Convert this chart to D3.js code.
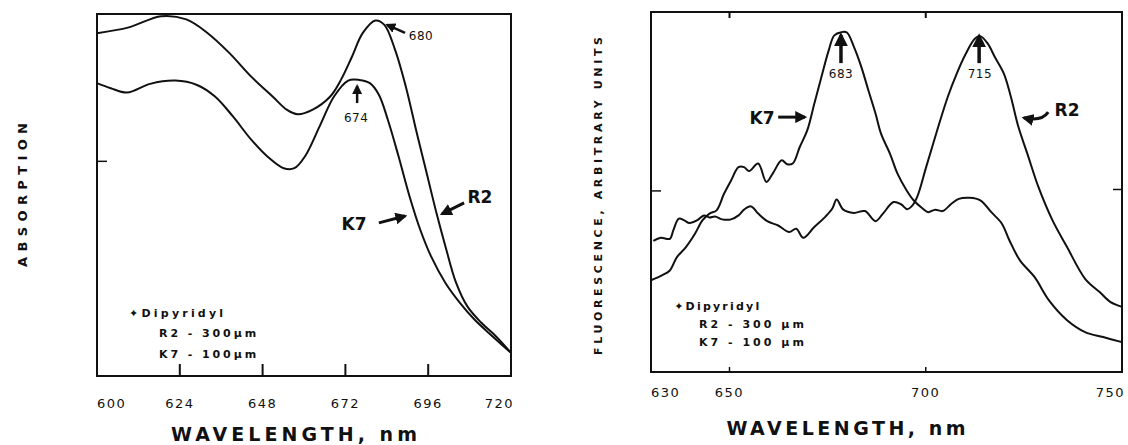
<!DOCTYPE html>
<html>
<head>
  <meta charset="utf-8">
  <title>Absorption and fluorescence spectra</title>
  <script src="https://d3js.org/d3.v7.min.js"></script>
  <style>
    body { margin: 0; background: #fff; }
    svg text { font-family: "DejaVu Sans", sans-serif; fill: #111; }
    .tick-label { font-size: 13px; letter-spacing: 1.5px; }
    .axis-title { font-size: 19px; font-weight: bold; }
    .legend { font-size: 11px; font-weight: bold; letter-spacing: 1px; }
    .tag { font-size: 17px; font-weight: bold; }
    .peak { font-size: 12px; letter-spacing: 0.5px; }
  </style>
</head>
<body>
<svg id="chart" width="1128" height="445"></svg>
<script>
// ---- left panel: absorption ----
var absTicks = [600, 624, 648, 672, 696, 720];
var absWlR2 = [600, 609.2, 618.6, 625.9, 632.1, 638.4, 644.7, 650.9, 655.1, 658.2, 662.4, 667.6, 670.7, 673.9, 677, 680.7, 683.3, 686.4, 689.5, 692.7, 695.8, 698.4, 701, 704.1, 707.3, 711.4, 715.6, 720];
var absR2 = [0.947, 0.963, 0.994, 0.985, 0.947, 0.892, 0.827, 0.772, 0.735, 0.723, 0.735, 0.772, 0.818, 0.882, 0.947, 0.982, 0.970, 0.901, 0.800, 0.671, 0.551, 0.450, 0.358, 0.257, 0.193, 0.147, 0.110, 0.064];
var absWlK7 = [600, 604, 608.7, 615.4, 622.7, 629, 634.2, 639.4, 644.7, 649.9, 654.1, 657.2, 660.3, 664.5, 668.7, 672.8, 676, 679.1, 681.7, 684.3, 687.4, 690.6, 693.7, 696.8, 701, 705.2, 709.4, 714.6, 720];
var absK7 = [0.809, 0.795, 0.783, 0.807, 0.816, 0.804, 0.772, 0.717, 0.653, 0.602, 0.574, 0.574, 0.607, 0.689, 0.772, 0.816, 0.818, 0.809, 0.777, 0.708, 0.607, 0.496, 0.404, 0.331, 0.257, 0.202, 0.156, 0.110, 0.064];

// ---- right panel: fluorescence ----
var fluTicks = [630, 650, 700, 750];
var fluWlK7 = [630, 632.9, 634.8, 636.6, 638.9, 641.2, 643.1, 644.9, 646.7, 648.6, 650.4, 652.3, 653.7, 655, 657.3, 659.4, 661, 663.3, 664.7, 666.1, 667.9, 669.8, 671.6, 673.4, 675.3, 676.7, 678.5, 679.9, 681.7, 683.6, 685.4, 687.2, 688.6, 690.9, 692.8, 695.1, 696.9, 699.2, 700.6, 702.4, 704.3, 706.6, 708.4, 711.2, 713.9, 716.7, 719.4, 721.3, 724, 727.7, 731.4, 736, 740.6, 745.2, 750];
var fluK7 = [0.255, 0.269, 0.282, 0.319, 0.347, 0.384, 0.421, 0.440, 0.449, 0.495, 0.532, 0.569, 0.569, 0.558, 0.579, 0.528, 0.551, 0.588, 0.577, 0.579, 0.625, 0.671, 0.745, 0.819, 0.894, 0.935, 0.944, 0.943, 0.903, 0.847, 0.782, 0.718, 0.662, 0.606, 0.551, 0.505, 0.477, 0.454, 0.444, 0.451, 0.447, 0.468, 0.481, 0.484, 0.477, 0.444, 0.412, 0.366, 0.310, 0.264, 0.199, 0.144, 0.111, 0.097, 0.083];
var fluWlR2 = [630.6, 632.5, 634.8, 635.7, 637.1, 638.5, 639.8, 641.7, 643.5, 644.9, 646.3, 648.1, 650.4, 652.3, 653.7, 655.5, 657.3, 659.6, 662.4, 665.2, 667, 668.8, 671.6, 674.4, 676.2, 677.3, 679, 681.7, 684.5, 687.2, 689.1, 691.8, 693.7, 695.3, 696.4, 697.8, 700.1, 702.9, 705.6, 707.9, 710.2, 712.5, 713.9, 715.8, 717.6, 719.9, 721.7, 723.6, 725.9, 728.7, 732.3, 736, 740.6, 744.3, 747.1, 750];
var fluR2 = [0.364, 0.373, 0.370, 0.394, 0.426, 0.421, 0.414, 0.421, 0.435, 0.429, 0.432, 0.424, 0.424, 0.435, 0.451, 0.460, 0.440, 0.419, 0.407, 0.389, 0.398, 0.373, 0.403, 0.431, 0.454, 0.479, 0.451, 0.442, 0.447, 0.419, 0.440, 0.472, 0.466, 0.452, 0.460, 0.486, 0.569, 0.671, 0.764, 0.829, 0.884, 0.926, 0.933, 0.912, 0.875, 0.829, 0.764, 0.681, 0.606, 0.514, 0.421, 0.347, 0.259, 0.222, 0.194, 0.181];

var legendLines = ["\u2726Dipyridyl", "R2 - 300\u03bcm", "K7 - 100\u03bcm"];
var legendLinesR = ["\u2726Dipyridyl", "R2 - 300 \u03bcm", "K7 - 100 \u03bcm"];

var svg = d3.select("#chart");
svg.append("defs").append("marker")
   .attr("id", "head")
   .attr("viewBox", "0 0 10 10")
   .attr("refX", 8).attr("refY", 5)
   .attr("markerWidth", 4).attr("markerHeight", 4)
   .attr("orient", "auto")
   .append("path")
   .attr("d", "M0,0 L10,5 L0,10 z")
   .attr("fill", "#111");

function series(wl, vals) {
  return wl.map(function(w, i) { return [w, vals[i]]; });
}

// ================= left panel =================
var xA = d3.scaleLinear().domain([600, 720]).range([97, 511]);
var yA = d3.scaleLinear().domain([0, 1]).range([376, 14]);
var gA = svg.append("g");

var lineA = d3.line()
  .x(function(d) { return xA(d[0]); })
  .y(function(d) { return yA(d[1]); })
  .curve(d3.curveCatmullRom.alpha(0.5));

gA.selectAll("path.curve")
  .data([series(absWlR2, absR2), series(absWlK7, absK7)])
  .enter().append("path")
  .attr("class", "curve")
  .attr("d", lineA)
  .attr("fill", "none")
  .attr("stroke", "#111")
  .attr("stroke-width", 2);

gA.append("rect")
  .attr("x", xA(600)).attr("y", yA(1))
  .attr("width", xA(720) - xA(600)).attr("height", yA(0) - yA(1))
  .attr("fill", "none").attr("stroke", "#111").attr("stroke-width", 2);

// inner ticks
gA.selectAll("line.xt")
  .data(absTicks.slice(1, -1))
  .enter().append("line")
  .attr("x1", function(d) { return xA(d); }).attr("x2", function(d) { return xA(d); })
  .attr("y1", yA(0)).attr("y2", yA(0) - 12)
  .attr("stroke", "#111").attr("stroke-width", 2);
gA.append("line")
  .attr("x1", xA(600)).attr("x2", xA(600) + 10)
  .attr("y1", yA(0.593)).attr("y2", yA(0.593))
  .attr("stroke", "#111").attr("stroke-width", 1.5);

gA.selectAll("text.tick-label")
  .data(absTicks)
  .enter().append("text")
  .attr("class", "tick-label")
  .attr("x", function(d, i) { return xA(d) + (i == absTicks.length - 1 ? 3 : 0); })
  .attr("y", 408)
  .attr("text-anchor", function(d, i) { return i == 0 ? "start" : i == absTicks.length - 1 ? "end" : "middle"; })
  .text(function(d) { return d; });

gA.append("text")
  .attr("class", "axis-title")
  .attr("x", 294).attr("y", 441)
  .attr("text-anchor", "middle")
  .attr("textLength", 246).attr("lengthAdjust", "spacing")
  .text("WAVELENGTH, nm");

gA.append("text")
  .attr("class", "axis-title")
  .style("font-size", "13px")
  .attr("transform", "translate(27,195) rotate(-90)")
  .attr("text-anchor", "middle")
  .attr("textLength", 144).attr("lengthAdjust", "spacing")
  .text("ABSORPTION");

// annotations (data units)
function arrow(g, xs, ys, x1, y1, x2, y2, w) {
  g.append("line")
    .attr("x1", xs(x1)).attr("y1", ys(y1))
    .attr("x2", xs(x2)).attr("y2", ys(y2))
    .attr("stroke", "#111").attr("stroke-width", w)
    .attr("marker-end", "url(#head)");
}
arrow(gA, xA, yA, 689.3, 0.948, 684.1, 0.970, 2.5);
gA.append("text").attr("class", "peak").attr("x", xA(693.9)).attr("y", yA(0.939))
  .attr("text-anchor", "middle").attr("dy", "0.35em").text("680");
arrow(gA, xA, yA, 675.4, 0.754, 675.4, 0.801, 2.5);
gA.append("text").attr("class", "peak").attr("x", xA(675.1)).attr("y", yA(0.713))
  .attr("text-anchor", "middle").attr("dy", "0.35em").text("674");
arrow(gA, xA, yA, 706.4, 0.478, 700.0, 0.448, 3);
gA.append("text").attr("class", "tag").attr("x", xA(711.0)).attr("y", yA(0.494))
  .attr("text-anchor", "middle").attr("dy", "0.35em").text("R2");
arrow(gA, xA, yA, 681.7, 0.423, 689.3, 0.442, 3);
gA.append("text").attr("class", "tag").attr("x", xA(674.5)).attr("y", yA(0.420))
  .attr("text-anchor", "middle").attr("dy", "0.35em").text("K7");

var legA = [[609.3, 0.174], [618.0, 0.119], [618.0, 0.061]];
gA.selectAll("text.legend")
  .data(legendLines)
  .enter().append("text")
  .attr("class", "legend")
  .attr("x", function(d, i) { return xA(legA[i][0]); })
  .attr("y", function(d, i) { return yA(legA[i][1]); })
  .attr("dy", "0.35em")
  .attr("textLength", function(d, i) { return i == 0 ? 95 : 98; })
  .attr("lengthAdjust", "spacing")
  .text(function(d) { return d; });

// ================= right panel =================
var xF = d3.scaleLinear().domain([630, 750]).range([651, 1122]);
var yF = d3.scaleLinear().domain([0, 1]).range([372, 12]);
var gF = svg.append("g");

var lineF = d3.line()
  .x(function(d) { return xF(d[0]); })
  .y(function(d) { return yF(d[1]); })
  .curve(d3.curveCatmullRom.alpha(0.5));

gF.selectAll("path.curve")
  .data([series(fluWlK7, fluK7), series(fluWlR2, fluR2)])
  .enter().append("path")
  .attr("class", "curve")
  .attr("d", lineF)
  .attr("fill", "none")
  .attr("stroke", "#111")
  .attr("stroke-width", 2);

gF.append("rect")
  .attr("x", xF(630)).attr("y", yF(1))
  .attr("width", xF(750) - xF(630)).attr("height", yF(0) - yF(1))
  .attr("fill", "none").attr("stroke", "#111").attr("stroke-width", 2);

gF.selectAll("line.top")
  .data([650, 700])
  .enter().append("line")
  .attr("x1", function(d) { return xF(d); }).attr("x2", function(d) { return xF(d); })
  .attr("y1", yF(1)).attr("y2", yF(1) + 6)
  .attr("stroke", "#111").attr("stroke-width", 2);
gF.selectAll("line.bot")
  .data([650, 700])
  .enter().append("line")
  .attr("x1", function(d) { return xF(d); }).attr("x2", function(d) { return xF(d); })
  .attr("y1", yF(0)).attr("y2", yF(0) - 5)
  .attr("stroke", "#111").attr("stroke-width", 1.5);
gF.append("line")
  .attr("x1", xF(630)).attr("x2", xF(630) + 10)
  .attr("y1", yF(0.503)).attr("y2", yF(0.503))
  .attr("stroke", "#111").attr("stroke-width", 1.5);
gF.append("line")
  .attr("x1", xF(750)).attr("x2", xF(750) - 9)
  .attr("y1", yF(0.507)).attr("y2", yF(0.507))
  .attr("stroke", "#111").attr("stroke-width", 1.5);

gF.selectAll("text.tick-label")
  .data(fluTicks)
  .enter().append("text")
  .attr("class", "tick-label")
  .attr("x", function(d, i) { return xF(d) + (i == fluTicks.length - 1 ? 3 : 0); })
  .attr("y", 397)
  .attr("text-anchor", function(d, i) { return i == 0 ? "start" : i == fluTicks.length - 1 ? "end" : "middle"; })
  .text(function(d) { return d; });

gF.append("text")
  .attr("class", "axis-title")
  .attr("x", 846).attr("y", 435)
  .attr("text-anchor", "middle")
  .attr("textLength", 239).attr("lengthAdjust", "spacing")
  .text("WAVELENGTH, nm");

gF.append("text")
  .attr("class", "axis-title")
  .style("font-size", "11px")
  .attr("transform", "translate(602,196) rotate(-90)")
  .attr("text-anchor", "middle")
  .attr("textLength", 318).attr("lengthAdjust", "spacing")
  .text("FLUORESCENCE, ARBITRARY UNITS");

arrow(gF, xF, yF, 678.4, 0.858, 678.4, 0.936, 3.5);
gF.append("text").attr("class", "peak").attr("x", xF(678.4)).attr("y", yF(0.828))
  .attr("text-anchor", "middle").attr("dy", "0.35em").text("683");
arrow(gF, xF, yF, 713.6, 0.858, 713.6, 0.933, 3.5);
gF.append("text").attr("class", "peak").attr("x", xF(713.8)).attr("y", yF(0.828))
  .attr("text-anchor", "middle").attr("dy", "0.35em").text("715");
arrow(gF, xF, yF, 662.4, 0.708, 669.2, 0.708, 3);
gF.append("text").attr("class", "tag").attr("x", xF(658.3)).attr("y", yF(0.706))
  .attr("text-anchor", "middle").attr("dy", "0.35em").text("K7");
// curved arrow for R2
gF.append("path")
  .attr("d", "M" + xF(731.2) + "," + yF(0.722) +
             " Q" + xF(729.5) + "," + yF(0.695) + " " + xF(725.0) + "," + yF(0.706))
  .attr("fill", "none").attr("stroke", "#111").attr("stroke-width", 3)
  .attr("marker-end", "url(#head)");
gF.append("text").attr("class", "tag").attr("x", xF(736.0)).attr("y", yF(0.728))
  .attr("text-anchor", "middle").attr("dy", "0.35em").text("R2");

var legF = [[635.9, 0.183], [642.2, 0.133], [642.2, 0.083]];
gF.selectAll("text.legend")
  .data(legendLinesR)
  .enter().append("text")
  .attr("class", "legend")
  .attr("x", function(d, i) { return xF(legF[i][0]); })
  .attr("y", function(d, i) { return yF(legF[i][1]); })
  .attr("dy", "0.35em")
  .attr("textLength", function(d, i) { return i == 0 ? 86 : 106; })
  .attr("lengthAdjust", "spacing")
  .text(function(d) { return d; });
</script>
</body>
</html>
